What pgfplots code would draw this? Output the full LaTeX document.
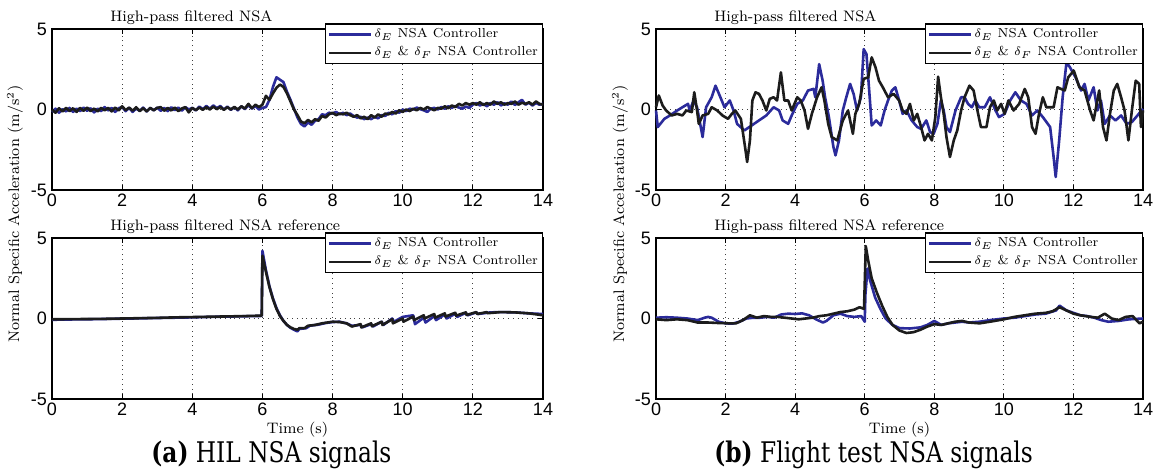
\documentclass[border=0pt]{standalone}
\usepackage{fontspec}
\usepackage{pgfplots}
\pgfplotsset{compat=1.18}
\newfontfamily\tickfont{Liberation Sans}
\newfontfamily\capfont{DejaVu Serif}[FakeStretch=0.82]
\definecolor{mblue}{RGB}{43,43,155}
\definecolor{mblack}{RGB}{28,28,28}
\newcommand{\sm}{\fontsize{7.6}{9}\selectfont}
\newcommand{\ttl}{\fontsize{7.6}{9}\selectfont}
\newcommand{\legf}{\fontsize{6.5}{7.8}\selectfont}
\pgfplotsset{
  nsa/.style={
    scale only axis, anchor=south west, clip=false,
    xmin=0, xmax=14, ymin=-5, ymax=5,
    xtick={0,2,...,14}, ytick={-5,0,5},
    grid=major, major grid style={dotted, black!75, line width=0.45pt},
    tick align=inside, major tick length=2.5pt,
    axis line style={line width=0.6pt},
    tick style={black, line width=0.45pt},
    ticklabel style={font=\tickfont\fontsize{9}{10}\selectfont},
    /pgf/number format/assume math mode=true,
    xticklabel style={yshift=1.5pt},
    yticklabel style={xshift=1pt},
    legend style={at={(1,1)}, anchor=north east, yshift=2.8pt, draw=black, line width=0.6pt,
      fill=white, font=\legf, inner sep=1.2pt, row sep=1pt, cells={anchor=west},
      nodes={inner sep=1pt}},
    legend image code/.code={\draw[#1] (0pt,0pt) -- (21pt,0pt);},
    every axis plot/.append style={line width=1.3pt, line join=round},
  },
  bl/.style={mblue}, bk/.style={mblack},
}
\begin{document}
\begin{tikzpicture}[x=1pt,y=1pt]
\path[use as bounding box] (0,0) rectangle (577.5,236.5);

% ---------------- (a) top
\begin{axis}[nsa, at={(26pt,141.5pt)}, width=245.5pt, height=80.5pt]
\addplot[bl] coordinates {(0.0,-0.15)(0.1,0.05)(0.2,-0.2)(0.3,0.02)(0.4,-0.12)(0.5,0.1)(0.6,-0.15)(0.7,0.05)(0.8,-0.1)(0.9,0.12)(1.0,-0.08)(1.1,0.08)(1.2,-0.18)(1.3,0.05)(1.4,-0.1)(1.5,0.15)(1.6,-0.06)(1.7,0.1)(1.8,-0.15)(1.9,0.08)(2.0,0.15)(2.1,-0.1)(2.2,0.1)(2.3,-0.15)(2.4,0.06)(2.5,-0.08)(2.6,0.12)(2.7,-0.12)(2.8,0.1)(2.9,-0.05)(3.0,0.12)(3.1,-0.08)(3.2,0.1)(3.3,-0.1)(3.4,0.14)(3.5,-0.04)(3.6,0.12)(3.7,-0.08)(3.8,0.15)(3.9,0.0)(4.0,0.1)(4.1,-0.06)(4.2,0.18)(4.3,0.02)(4.4,0.22)(4.5,0.05)(4.6,0.25)(4.7,0.08)(4.8,0.22)(4.9,0.0)(5.0,0.18)(5.1,-0.02)(5.2,0.15)(5.3,-0.05)(5.4,0.2)(5.5,0.02)(5.6,0.28)(5.7,0.05)(5.8,0.22)(5.9,0.0)(6.0,0.1)(6.1,0.15)(6.2,0.6)(6.3,1.4)(6.4,2.0)(6.5,1.85)(6.6,1.7)(6.7,1.1)(6.8,0.6)(6.9,0.05)(7.0,-0.5)(7.1,-0.9)(7.2,-1.05)(7.3,-0.8)(7.4,-0.95)(7.5,-0.7)(7.6,-0.6)(7.7,-0.3)(7.8,-0.35)(7.9,-0.2)(8.0,-0.25)(8.1,-0.15)(8.2,-0.3)(8.3,-0.2)(8.4,-0.35)(8.5,-0.25)(8.6,-0.4)(8.7,-0.5)(8.8,-0.45)(8.9,-0.6)(9.0,-0.5)(9.1,-0.6)(9.2,-0.45)(9.3,-0.55)(9.4,-0.35)(9.5,-0.4)(9.6,-0.2)(9.7,-0.3)(9.8,-0.1)(9.9,-0.2)(10.0,0.0)(10.1,-0.1)(10.2,0.05)(10.3,0.0)(10.4,0.12)(10.5,0.02)(10.6,-0.05)(10.7,-0.15)(10.8,0.05)(10.9,0.1)(11.0,0.0)(11.1,0.15)(11.2,0.05)(11.3,0.2)(11.4,0.1)(11.5,0.22)(11.6,0.12)(11.7,0.05)(11.8,0.18)(11.9,0.1)(12.0,0.3)(12.1,0.4)(12.2,0.25)(12.3,0.35)(12.4,0.2)(12.5,0.4)(12.6,0.3)(12.7,0.45)(12.8,0.25)(12.9,0.38)(13.0,0.3)(13.1,0.5)(13.2,0.28)(13.3,0.45)(13.4,0.6)(13.5,0.3)(13.6,0.42)(13.7,0.25)(13.8,0.4)(13.9,0.3)(14.0,0.35)};
\addlegendentry{$\delta_E$ NSA Controller}
\addplot[bk] coordinates {(0.0,0.0)(0.1,-0.2)(0.2,0.08)(0.3,-0.12)(0.4,0.1)(0.5,-0.1)(0.6,0.08)(0.7,-0.15)(0.8,0.1)(0.9,-0.08)(1.0,0.12)(1.1,-0.1)(1.2,0.06)(1.3,-0.12)(1.4,0.1)(1.5,-0.05)(1.6,0.1)(1.7,-0.12)(1.8,0.12)(1.9,-0.06)(2.0,0.2)(2.1,-0.04)(2.2,0.12)(2.3,-0.08)(2.4,0.14)(2.5,-0.1)(2.6,0.08)(2.7,-0.12)(2.8,0.1)(2.9,-0.05)(3.0,0.1)(3.1,0.15)(3.2,-0.08)(3.3,0.1)(3.4,-0.06)(3.5,0.12)(3.6,-0.1)(3.7,0.06)(3.8,0.15)(3.9,-0.18)(4.0,0.1)(4.1,-0.04)(4.2,0.12)(4.3,-0.02)(4.4,0.15)(4.5,0.0)(4.6,0.18)(4.7,0.02)(4.8,0.16)(4.9,-0.02)(5.0,0.14)(5.1,0.0)(5.2,0.16)(5.3,0.0)(5.4,0.2)(5.5,0.06)(5.6,0.35)(5.7,0.08)(5.8,0.3)(5.9,0.15)(6.0,0.3)(6.1,0.85)(6.2,0.6)(6.3,1.0)(6.4,1.35)(6.5,1.55)(6.6,1.4)(6.7,1.0)(6.8,0.5)(6.9,0.0)(7.0,-0.35)(7.1,-0.75)(7.2,-0.85)(7.3,-0.65)(7.4,-0.8)(7.5,-0.6)(7.6,-0.7)(7.7,-0.4)(7.8,-0.5)(7.9,-0.3)(8.0,-0.2)(8.1,-0.35)(8.2,-0.25)(8.3,-0.3)(8.4,-0.2)(8.5,-0.35)(8.6,-0.45)(8.7,-0.35)(8.8,-0.55)(8.9,-0.45)(9.0,-0.6)(9.1,-0.35)(9.2,-0.5)(9.3,-0.3)(9.4,-0.45)(9.5,-0.25)(9.6,-0.3)(9.7,-0.15)(9.8,-0.25)(9.9,-0.05)(10.0,-0.15)(10.1,0.0)(10.2,-0.1)(10.3,0.05)(10.4,-0.05)(10.5,0.1)(10.6,0.0)(10.7,0.15)(10.8,0.05)(10.9,-0.05)(11.0,0.1)(11.1,0.05)(11.2,0.2)(11.3,0.08)(11.4,0.25)(11.5,0.15)(11.6,0.35)(11.7,0.25)(11.8,0.4)(11.9,0.3)(12.0,0.4)(12.1,0.3)(12.2,0.45)(12.3,0.28)(12.4,0.4)(12.5,0.3)(12.6,0.5)(12.7,0.35)(12.8,0.45)(12.9,0.3)(13.0,0.4)(13.1,0.35)(13.2,0.5)(13.3,0.3)(13.4,0.42)(13.5,0.35)(13.6,0.45)(13.7,0.3)(13.8,0.5)(13.9,0.35)(14.0,0.3)};
\addlegendentry{$\delta_E$ \& $\delta_F$ NSA Controller}
\node[anchor=base west, font=\ttl, inner sep=0pt] at (rel axis cs:0.118,1) [yshift=4pt] {High-pass filtered NSA};
\end{axis}

% ---------------- (a) bottom
\begin{axis}[nsa, at={(26pt,37pt)}, width=245.5pt, height=80.5pt]
\addplot[bl] coordinates {(0,-0.08)(0.5,-0.06)(1,-0.05)(1.5,-0.03)(2,-0.01)(2.5,0.01)(3,0.03)(3.5,0.05)(4,0.07)(4.5,0.1)(5,0.12)(5.5,0.14)(5.98,0.16)(6.0,4.2)(6.1,3.0)(6.2,2.0)(6.3,1.25)(6.4,0.65)(6.5,0.2)(6.6,-0.15)(6.7,-0.4)(6.8,-0.58)(6.9,-0.7)(7.0,-0.8)(7.05,-0.65)(7.25,-0.6)(7.35,-0.45)(7.6,-0.38)(7.8,-0.28)(8.0,-0.22)(8.2,-0.2)(8.4,-0.3)(8.55,-0.45)(8.8,-0.4)(8.85,-0.55)(9.1,-0.35)(9.15,-0.5)(9.4,-0.2)(9.45,-0.4)(9.7,0.0)(9.75,-0.2)(10.0,0.1)(10.3,0.2)(10.35,-0.35)(10.6,0.05)(10.65,-0.25)(10.9,0.15)(10.95,-0.1)(11.2,0.25)(11.25,0.0)(11.5,0.3)(11.55,0.1)(11.8,0.35)(11.85,0.2)(12.1,0.38)(12.15,0.28)(12.5,0.38)(12.8,0.4)(13.2,0.38)(13.6,0.32)(14.0,0.28)};
\addlegendentry{$\delta_E$ NSA Controller}
\addplot[bk] coordinates {(0,-0.05)(0.5,-0.04)(1,-0.03)(1.5,-0.02)(2,0.0)(2.5,0.02)(3,0.04)(3.5,0.07)(4,0.09)(4.5,0.11)(5,0.13)(5.5,0.15)(5.98,0.18)(6.0,3.9)(6.1,2.9)(6.2,1.95)(6.3,1.2)(6.4,0.6)(6.5,0.15)(6.6,-0.15)(6.7,-0.4)(6.8,-0.55)(6.9,-0.65)(7.0,-0.7)(7.05,-0.6)(7.2,-0.6)(7.3,-0.45)(7.5,-0.4)(7.7,-0.3)(8.0,-0.2)(8.2,-0.22)(8.4,-0.3)(8.55,-0.5)(8.8,-0.35)(8.82,-0.55)(9.1,-0.3)(9.12,-0.48)(9.4,-0.2)(9.42,-0.4)(9.7,-0.05)(9.72,-0.3)(10.0,0.0)(10.02,-0.2)(10.3,0.12)(10.32,-0.1)(10.6,0.2)(10.62,0.0)(10.9,0.28)(10.92,0.05)(11.2,0.32)(11.22,0.12)(11.5,0.36)(11.52,0.18)(11.8,0.38)(11.82,0.22)(12.1,0.4)(12.12,0.28)(12.4,0.4)(12.42,0.33)(12.8,0.4)(13.2,0.38)(13.6,0.32)(14.0,0.2)};
\addlegendentry{$\delta_E$ \& $\delta_F$ NSA Controller}
\node[anchor=base west, font=\ttl, inner sep=0pt] at (rel axis cs:0.118,1) [yshift=4pt] {High-pass filtered NSA reference};
\end{axis}

% ---------------- (b) top
\begin{axis}[nsa, at={(328pt,141.5pt)}, width=243.5pt, height=80.5pt]
\addplot[bl] coordinates {(0,-0.06)(0.05,-1.09)(0.24,-0.58)(0.40,-0.37)(0.61,-0.06)(0.76,0.14)(0.92,0.35)(0.97,-0.06)(1.08,0.56)(1.18,0.14)(1.34,-1.71)(1.44,0.14)(1.60,0.76)(1.71,1.48)(1.81,0.97)(1.97,0.14)(2.12,0.56)(2.23,-0.06)(2.33,-0.89)(2.54,-1.30)(2.75,-0.99)(2.96,-0.68)(3.17,-0.37)(3.38,0.14)(3.54,-0.06)(3.64,-0.68)(3.80,-0.89)(3.90,-0.37)(4.06,0.35)(4.22,0.56)(4.37,1.18)(4.53,1.28)(4.58,0.76)(4.69,2.82)(4.79,1.79)(4.86,0.76)(4.97,-0.47)(5.10,-2.33)(5.16,-2.85)(5.26,-1.92)(5.37,-0.06)(5.47,0.76)(5.58,1.59)(5.68,0.97)(5.78,-0.06)(5.89,0.76)(5.97,3.75)(6.05,3.44)(6.15,0.56)(6.20,-0.99)(6.33,-0.68)(6.46,-0.99)(6.57,-0.06)(6.67,0.56)(6.78,1.18)(6.88,1.38)(6.99,0.56)(7.09,-0.27)(7.20,-0.06)(7.35,-0.68)(7.51,-1.09)(7.62,-1.20)(7.77,-0.68)(7.88,-1.40)(7.98,-1.51)(8.09,-0.89)(8.19,0.56)(8.27,-0.06)(8.35,-1.09)(8.45,-1.40)(8.61,-0.06)(8.77,0.76)(8.87,0.76)(8.97,0.35)(9.08,0.14)(9.18,0.56)(9.29,0.14)(9.45,0.14)(9.60,0.76)(9.76,-0.06)(9.86,-0.47)(10.02,-0.27)(10.18,0.56)(10.33,1.07)(10.49,0.56)(10.65,0.35)(10.81,-0.37)(10.96,-0.06)(11.12,-0.47)(11.33,-1.09)(11.43,-2.95)(11.49,-4.19)(11.59,-1.92)(11.69,0.76)(11.80,2.93)(11.90,2.62)(12.06,2.00)(12.22,1.18)(12.32,1.59)(12.43,0.56)(12.58,1.38)(12.69,-0.06)(12.79,0.56)(12.90,-0.89)(13.05,-0.37)(13.21,-0.68)(13.37,-0.37)(13.53,-0.89)(13.68,-0.78)(13.84,-0.37)(14.00,0.04)};
\addlegendentry{$\delta_E$ NSA Controller}
\addplot[bk] coordinates {(0,0.14)(0.08,0.87)(0.19,0.25)(0.29,-0.06)(0.45,-0.37)(0.61,-0.27)(0.76,-0.37)(0.87,-0.06)(1.03,-0.16)(1.10,1.07)(1.18,-0.06)(1.23,-0.89)(1.34,-0.37)(1.50,-0.27)(1.60,0.14)(1.76,-0.06)(1.91,-0.37)(2.07,-0.58)(2.18,-0.27)(2.28,-0.06)(2.44,-0.58)(2.56,-2.33)(2.62,-3.26)(2.70,-1.92)(2.77,0.56)(2.86,1.07)(2.96,0.97)(3.06,0.56)(3.17,-0.06)(3.27,0.66)(3.38,0.76)(3.48,0.56)(3.59,2.31)(3.69,0.56)(3.80,0.56)(3.90,-0.06)(4.06,0.76)(4.16,0.56)(4.27,-0.06)(4.37,-1.20)(4.48,-0.27)(4.63,0.76)(4.76,1.38)(4.84,0.56)(4.95,-0.89)(5.05,-1.71)(5.21,-1.92)(5.37,-0.68)(5.52,-0.06)(5.66,-1.51)(5.73,-0.27)(5.84,0.35)(5.97,1.90)(6.10,2.00)(6.20,3.24)(6.31,2.62)(6.41,1.79)(6.52,1.38)(6.67,0.76)(6.83,0.97)(6.99,0.56)(7.09,-0.06)(7.20,-0.27)(7.30,0.35)(7.41,-0.68)(7.51,-0.27)(7.62,-1.09)(7.72,-1.92)(7.82,-1.51)(7.93,-1.92)(8.03,-0.47)(8.11,2.04)(8.19,0.76)(8.27,-0.27)(8.35,-1.71)(8.45,-2.95)(8.56,-1.92)(8.66,-1.30)(8.77,-0.06)(8.87,0.76)(9.01,1.48)(9.13,1.18)(9.24,-0.06)(9.34,-1.09)(9.50,-1.09)(9.60,0.14)(9.71,0.56)(9.81,-0.06)(9.92,0.35)(10.02,-0.27)(10.13,0.56)(10.28,-0.06)(10.44,0.35)(10.60,1.28)(10.70,0.76)(10.81,-1.09)(10.91,-1.51)(11.01,-0.27)(11.12,0.76)(11.22,0.14)(11.33,0.14)(11.43,0.14)(11.54,1.38)(11.64,1.28)(11.75,1.18)(11.85,2.00)(12.01,2.41)(12.17,1.38)(12.32,1.18)(12.48,-0.06)(12.58,-0.68)(12.74,1.18)(12.85,-1.09)(12.95,-1.92)(13.05,-0.27)(13.16,1.18)(13.26,1.59)(13.37,0.76)(13.47,-0.06)(13.58,-1.92)(13.68,-0.06)(13.79,1.79)(13.89,1.59)(13.94,-1.09)(14.00,-0.06)};
\addlegendentry{$\delta_E$ \& $\delta_F$ NSA Controller}
\node[anchor=base west, font=\ttl, inner sep=0pt] at (rel axis cs:0.119,1) [yshift=4pt] {High-pass filtered NSA};
\end{axis}

% ---------------- (b) bottom
\begin{axis}[nsa, at={(328pt,37pt)}, width=243.5pt, height=80.5pt]
\addplot[bl] coordinates {(0,0.05)(0.3,0.08)(0.6,0.05)(0.9,0.0)(1.2,-0.1)(1.4,0.05)(1.5,0.1)(1.6,0.05)(1.8,-0.2)(2.0,-0.3)(2.2,-0.32)(2.4,-0.2)(2.6,0.0)(2.8,0.05)(3.0,0.05)(3.2,0.1)(3.4,0.05)(3.6,0.25)(3.8,0.3)(4.0,0.28)(4.2,0.32)(4.4,0.2)(4.6,-0.05)(4.8,-0.25)(4.9,-0.15)(5.1,0.2)(5.3,0.3)(5.5,0.15)(5.7,0.1)(5.9,0.15)(6.0,-0.2)(6.02,1.5)(6.08,3.1)(6.15,2.4)(6.3,1.3)(6.45,0.6)(6.6,0.0)(6.8,-0.4)(7.0,-0.6)(7.3,-0.62)(7.6,-0.55)(7.8,-0.4)(8.0,-0.15)(8.2,-0.4)(8.4,-0.3)(8.6,-0.25)(8.8,-0.2)(9.0,-0.25)(9.3,-0.2)(9.6,-0.1)(10.0,0.0)(10.3,0.05)(10.6,0.15)(10.9,0.25)(11.2,0.3)(11.5,0.5)(11.6,0.8)(11.8,0.5)(12.0,0.35)(12.2,0.2)(12.4,0.15)(12.6,0.05)(12.8,-0.1)(13.0,-0.2)(13.3,-0.15)(13.6,-0.05)(14.0,0.0)};
\addlegendentry{$\delta_E$ NSA Controller}
\addplot[bk] coordinates {(0,-0.05)(0.3,-0.1)(0.6,-0.05)(0.9,-0.1)(1.2,-0.25)(1.5,-0.25)(1.8,-0.28)(2.1,-0.3)(2.3,-0.3)(2.5,-0.1)(2.7,0.2)(2.9,0.05)(3.1,0.15)(3.3,0.1)(3.5,0.1)(3.7,0.05)(3.9,0.0)(4.1,-0.05)(4.3,0.0)(4.5,0.05)(4.7,0.15)(4.9,0.2)(5.1,0.3)(5.3,0.4)(5.5,0.45)(5.7,0.55)(5.85,0.7)(5.98,0.6)(6.03,4.5)(6.1,3.6)(6.2,2.5)(6.35,1.6)(6.5,0.8)(6.65,0.1)(6.8,-0.4)(7.0,-0.75)(7.2,-0.9)(7.4,-0.85)(7.6,-0.7)(7.8,-0.5)(8.0,-0.35)(8.2,-0.4)(8.4,-0.3)(8.6,-0.2)(8.8,-0.15)(9.0,-0.25)(9.3,-0.3)(9.6,-0.2)(10.0,-0.05)(10.3,0.1)(10.6,0.2)(10.9,0.3)(11.2,0.35)(11.4,0.45)(11.6,0.7)(11.8,0.5)(12.0,0.3)(12.2,0.2)(12.5,0.1)(12.7,0.05)(12.9,0.3)(13.1,0.0)(13.3,-0.1)(13.5,0.1)(13.7,0.15)(13.9,-0.3)(14.0,-0.2)};
\addlegendentry{$\delta_E$ \& $\delta_F$ NSA Controller}
\node[anchor=base west, font=\ttl, inner sep=0pt] at (rel axis cs:0.119,1) [yshift=4pt] {High-pass filtered NSA reference};
\end{axis}

% labels
\node[rotate=90, font=\sm] at (7.5,129.5) {Normal Specific Acceleration (m/s$^2$)};
\node[rotate=90, font=\sm] at (310,129.5) {Normal Specific Acceleration (m/s$^2$)};
\node[font=\sm] at (148.75,21.5) {Time (s)};
\node[font=\sm] at (449.75,21.5) {Time (s)};
\node[anchor=base west, font=\capfont\fontsize{14.2}{16}\selectfont, inner sep=0pt] at (75.5,5.5) {\textbf{(a)} HIL NSA signals};
\node[anchor=base west, font=\capfont\fontsize{14.2}{16}\selectfont, inner sep=0pt] at (357,5.5) {\textbf{(b)} Flight test NSA signals};
\end{tikzpicture}
\end{document}
